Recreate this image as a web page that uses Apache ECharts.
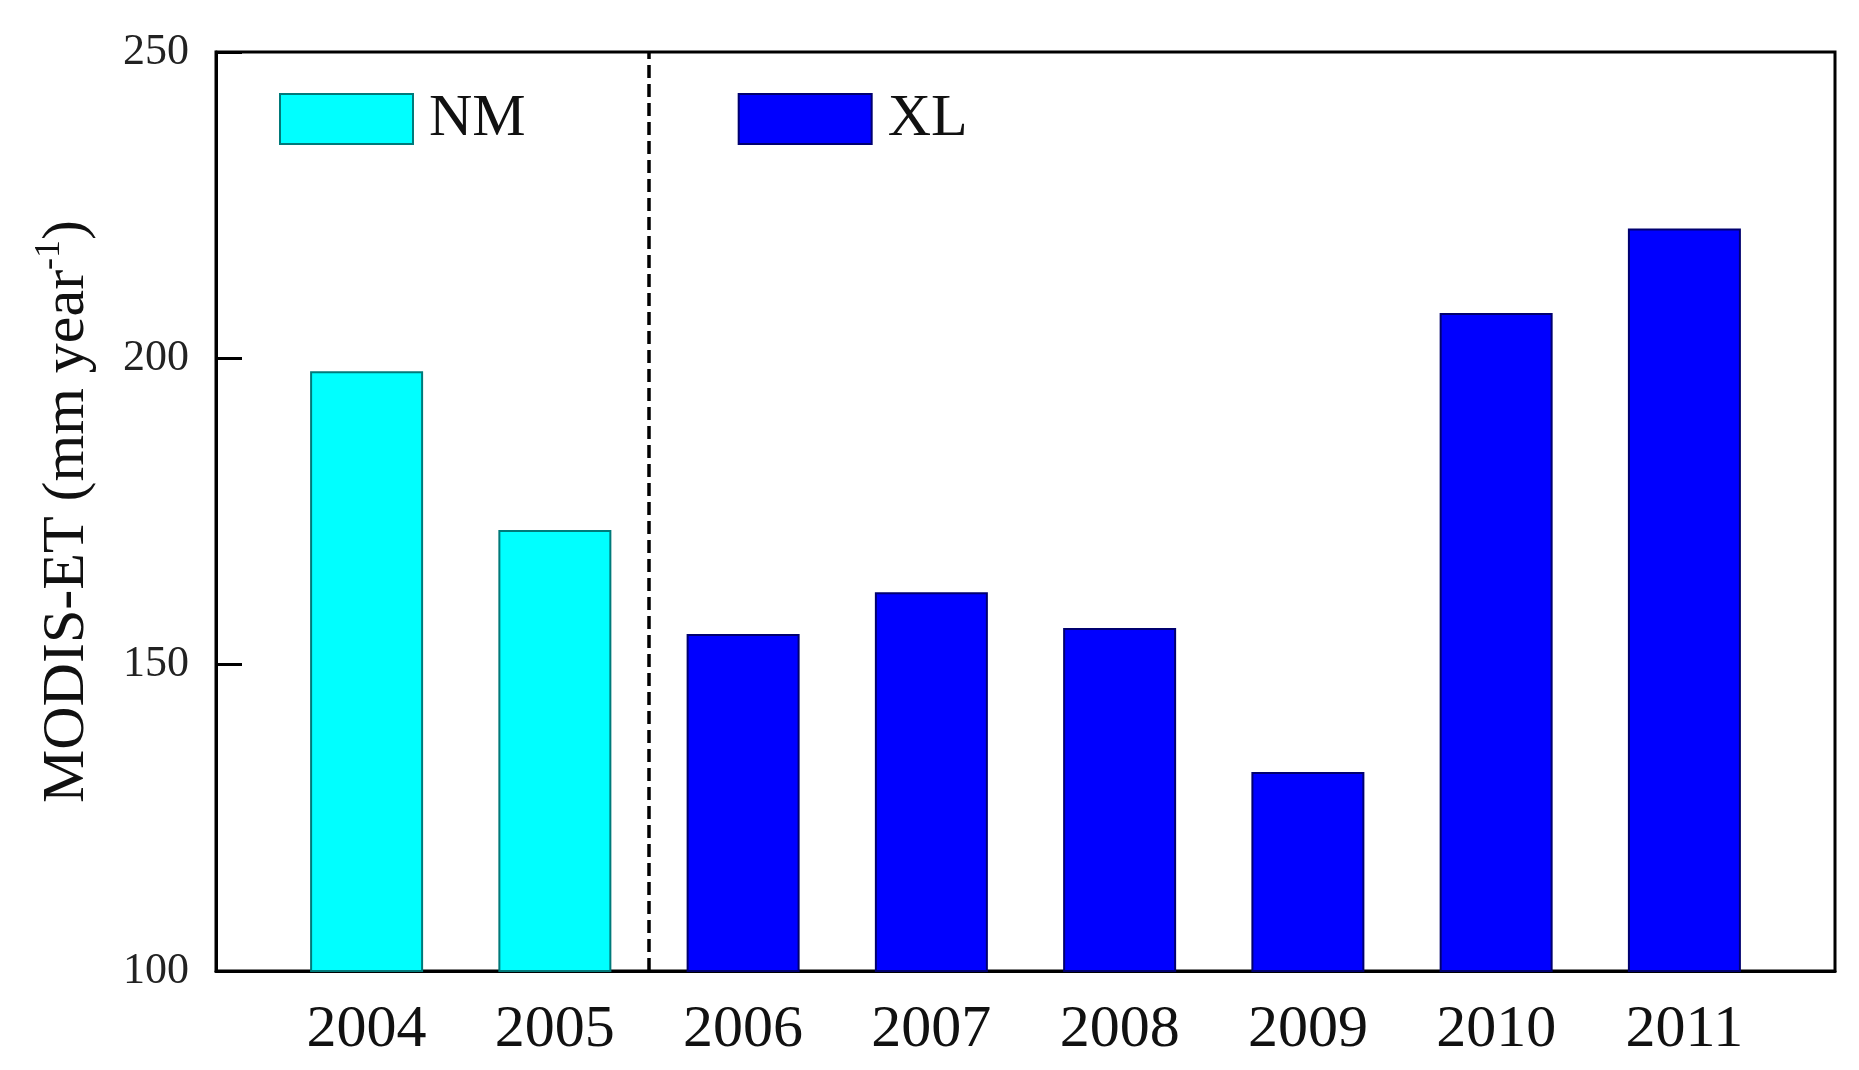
<!DOCTYPE html>
<html>
<head>
<meta charset="utf-8">
<script src="https://cdn.jsdelivr.net/npm/echarts@6/dist/echarts.min.js"></script>
<style>
html,body{margin:0;padding:0;background:#fff;}
#chart{width:1859px;height:1070px;}
</style>
</head>
<body>
<div id="chart"></div>
<script>
// ---- data ----
var years = ['2004','2005','2006','2007','2008','2009','2010','2011'];
var nmYears = ['2004','2005'];
var nmValues = [197.9, 172.0];
var xlYears = ['2006','2007','2008','2009','2010','2011'];
var xlValues = [155.0, 161.8, 156.0, 132.5, 207.4, 221.2];
var yTicks = [100, 150, 200, 250];
var splitBetween = ['2005','2006']; // dashed separator between these years

function pairs(ys, vs){
  return ys.map(function(y, i){ return [years.indexOf(y), vs[i]]; });
}
var sepX = (years.indexOf(splitBetween[0]) + years.indexOf(splitBetween[1])) / 2;

var FONT = '"Liberation Serif","Times New Roman",serif';
var chart = echarts.init(document.getElementById('chart'), null, {renderer:'canvas'});
chart.setOption({
  animation:false,
  backgroundColor:'#ffffff',
  grid:{left:216,right:24,top:52,bottom:99,show:true,borderColor:'#000',borderWidth:3,backgroundColor:'transparent'},
  legend:{
    left:274, top:84, itemWidth:133, itemHeight:50, itemGap:212,
    icon:'rect',
    textStyle:{fontFamily:FONT,fontSize:60,color:'#111',padding:[0,0,0,11]},
    data:['NM','XL']
  },
  xAxis:{
    type:'value', min:-0.8, max:years.length - 0.2,
    splitLine:{show:false},
    axisLine:{show:true,onZero:false,lineStyle:{color:'#000',width:3}},
    axisTick:{show:false},
    axisLabel:{
      customValues: years.map(function(y,i){return i;}),
      formatter:function(v){ return years[Math.round(v)]; },
      fontFamily:FONT,fontSize:60,color:'#111',margin:29
    }
  },
  yAxis:{
    type:'value', min:yTicks[0], max:yTicks[yTicks.length-1], interval:yTicks[1]-yTicks[0],
    splitLine:{show:false},
    axisLine:{show:true,onZero:false,lineStyle:{color:'#000',width:3}},
    axisTick:{show:true,inside:true,length:26,lineStyle:{color:'#000',width:3}},
    axisLabel:{fontFamily:FONT,fontSize:44,color:'#222',margin:27,padding:[0,0,12,0]},
    name:'{a|MODIS-ET (mm year}{s|-1}{a|)}',
    nameLocation:'middle',
    nameGap:114,
    nameTextStyle:{
      rich:{
        a:{fontFamily:FONT,fontSize:60,color:'#111'},
        s:{fontFamily:FONT,fontSize:36,color:'#111',verticalAlign:'top',padding:[0,0,34,0]}
      }
    }
  },
  series:[
    {
      name:'NM', type:'bar', barWidth:113, barGap:'-100%',
      itemStyle:{color:'#00FFFF',borderColor:'#007a7a',borderWidth:2},
      data:pairs(nmYears,nmValues),
      markLine:{
        silent:true, symbol:['none','none'],
        label:{show:false},
        lineStyle:{color:'#000',width:3.5,type:[13,6]},
        data:[{xAxis:sepX}]
      }
    },
    {
      name:'XL', type:'bar', barWidth:113, barGap:'-100%',
      itemStyle:{color:'#0000FF',borderColor:'#000070',borderWidth:2},
      data:pairs(xlYears,xlValues)
    }
  ]
});
</script>
</body>
</html>
